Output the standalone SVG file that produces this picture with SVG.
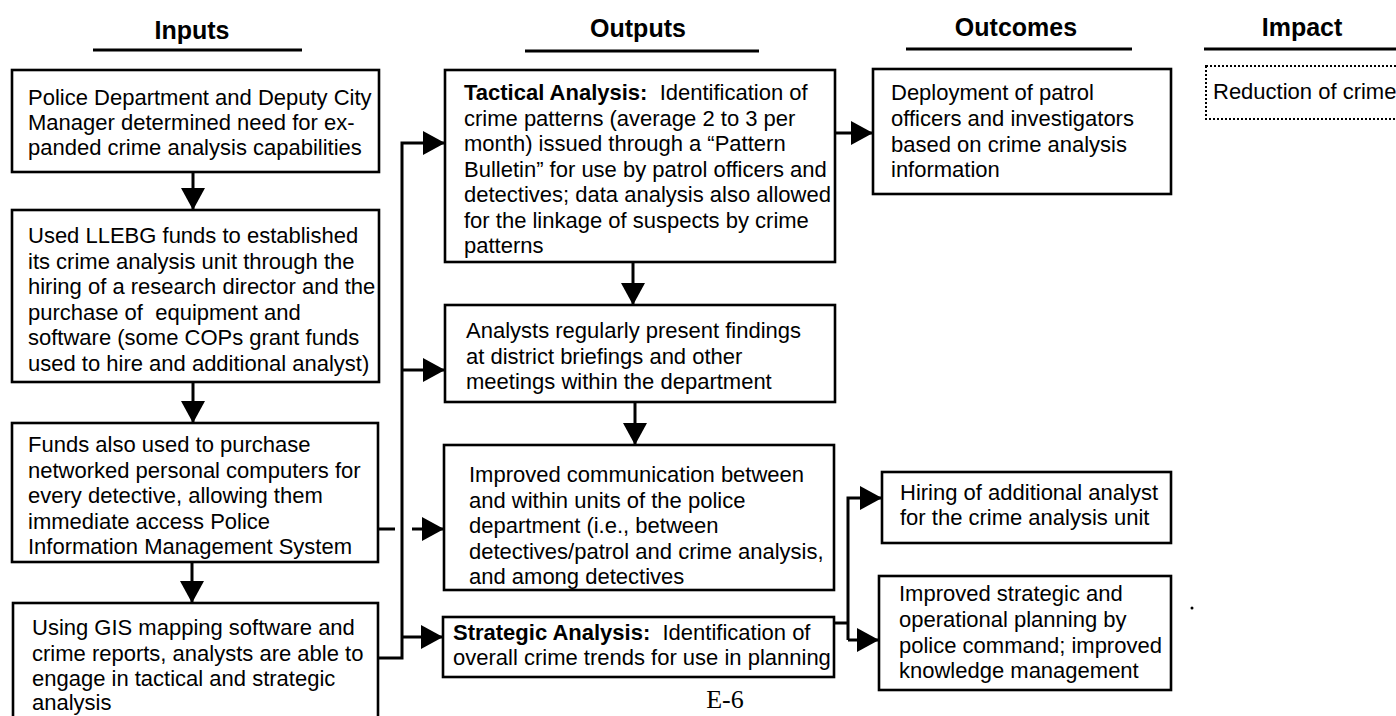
<svg xmlns="http://www.w3.org/2000/svg" width="1396" height="716" viewBox="0 0 1396 716">
<style>
text{font-family:"Liberation Sans",Arial,sans-serif;font-size:22px;fill:#000;white-space:pre}
.h{font-size:25px;font-weight:bold;text-anchor:middle}
.b{font-weight:bold}
.box{fill:#fff;stroke:#000;stroke-width:2.6}
.ul{stroke:#000;stroke-width:3}
.c{fill:none;stroke:#000;stroke-width:3}
</style>
<defs>
<marker id="ah" markerUnits="userSpaceOnUse" markerWidth="22" markerHeight="24" refX="22" refY="12" orient="auto">
<path d="M0,0 L22,12 L0,24 z" fill="#000"/>
</marker>
</defs>
<rect width="1396" height="716" fill="#fff"/>

<g id="headers">
<text class="h" x="192" y="39">Inputs</text>
<line class="ul" x1="93" y1="50" x2="302" y2="50"/>
<text class="h" x="638" y="37">Outputs</text>
<line class="ul" x1="525" y1="51" x2="759" y2="51"/>
<text class="h" x="1016" y="36">Outcomes</text>
<line class="ul" x1="906" y1="49" x2="1132" y2="49"/>
<text class="h" x="1302" y="36">Impact</text>
<line class="ul" x1="1204" y1="49" x2="1396" y2="49"/>
</g>

<g id="connectors">
<line class="c" x1="193" y1="172" x2="193" y2="210" marker-end="url(#ah)"/>
<line class="c" x1="193" y1="382" x2="193" y2="423" marker-end="url(#ah)"/>
<line class="c" x1="192" y1="562" x2="192" y2="603" marker-end="url(#ah)"/>
<path class="c" d="M378,658 H402 V143 H445" marker-end="url(#ah)"/>
<path class="c" d="M402,370 H445" marker-end="url(#ah)"/>
<path class="c" d="M402,637 H443" marker-end="url(#ah)"/>
<path class="c" d="M378,529 H395"/>
<path class="c" d="M412,529 H444" marker-end="url(#ah)"/>
<line class="c" x1="633" y1="262" x2="633" y2="305" marker-end="url(#ah)"/>
<line class="c" x1="635" y1="402" x2="635" y2="445" marker-end="url(#ah)"/>
<path class="c" d="M835,133 H873" marker-end="url(#ah)"/>
<path class="c" d="M834,623 H848"/>
<path class="c" d="M848,640 V498 H882" marker-end="url(#ah)"/>
<path class="c" d="M848,640 H879" marker-end="url(#ah)"/>
</g>

<g id="in1">
<rect class="box" x="12" y="70" width="367" height="102"/>
<text x="28" y="105">Police Department and Deputy City</text>
<text x="28" y="130">Manager determined need for ex-</text>
<text x="28" y="155">panded crime analysis capabilities</text>
</g>

<g id="in2">
<rect class="box" x="12" y="210" width="367" height="172"/>
<text x="28" y="243">Used LLEBG funds to established</text>
<text x="28" y="268.5">its crime analysis unit through the</text>
<text x="28" y="294">hiring of a research director and the</text>
<text x="28" y="319.5" xml:space="preserve">purchase of  equipment and</text>
<text x="28" y="345">software (some COPs grant funds</text>
<text x="28" y="370.5">used to hire and additional analyst)</text>
</g>

<g id="in3">
<rect class="box" x="12" y="423" width="366" height="139"/>
<text x="28" y="452">Funds also used to purchase</text>
<text x="28" y="477.5">networked personal computers for</text>
<text x="28" y="503">every detective, allowing them</text>
<text x="28" y="528.5">immediate access Police</text>
<text x="28" y="554">Information Management System</text>
</g>

<g id="in4">
<rect class="box" x="13" y="603" width="365" height="130"/>
<text x="32" y="635">Using GIS mapping software and</text>
<text x="32" y="660.5">crime reports, analysts are able to</text>
<text x="32" y="686">engage in tactical and strategic</text>
<text x="32" y="710">analysis</text>
</g>

<g id="out1">
<rect class="box" x="445" y="70" width="390" height="192"/>
<text x="464" y="100" xml:space="preserve"><tspan class="b">Tactical Analysis:</tspan>  Identification of</text>
<text x="464" y="125.5">crime patterns (average 2 to 3 per</text>
<text x="464" y="151">month) issued through a “Pattern</text>
<text x="464" y="176.5">Bulletin” for use by patrol officers and</text>
<text x="464" y="202">detectives; data analysis also allowed</text>
<text x="464" y="227.5">for the linkage of suspects by crime</text>
<text x="464" y="253">patterns</text>
</g>

<g id="out2">
<rect class="box" x="445" y="305" width="390" height="97"/>
<text x="466" y="338">Analysts regularly present findings</text>
<text x="466" y="363.5">at district briefings and other</text>
<text x="466" y="389">meetings within the department</text>
</g>

<g id="out3">
<rect class="box" x="444" y="445" width="390" height="145"/>
<text x="469" y="482">Improved communication between</text>
<text x="469" y="507.5">and within units of the police</text>
<text x="469" y="533">department (i.e., between</text>
<text x="469" y="558.5">detectives/patrol and crime analysis,</text>
<text x="469" y="584">and among detectives</text>
</g>

<g id="out4">
<rect class="box" x="443" y="617" width="391" height="60"/>
<text x="453" y="640" xml:space="preserve"><tspan class="b">Strategic Analysis:</tspan>  Identification of</text>
<text x="453" y="665">overall crime trends for use in planning</text>
</g>

<g id="oc1">
<rect class="box" x="873" y="69" width="298" height="125"/>
<text x="891" y="100">Deployment of patrol</text>
<text x="891" y="126">officers and investigators</text>
<text x="891" y="151.5">based on crime analysis</text>
<text x="891" y="177">information</text>
</g>

<g id="oc2">
<rect class="box" x="882" y="472" width="289" height="71"/>
<text x="900" y="500">Hiring of additional analyst</text>
<text x="900" y="525">for the crime analysis unit</text>
</g>

<g id="oc3">
<rect class="box" x="879" y="576" width="292" height="114"/>
<text x="899" y="601">Improved strategic and</text>
<text x="899" y="627">operational planning by</text>
<text x="899" y="653">police command; improved</text>
<text x="899" y="678">knowledge management</text>
</g>

<g id="impact1">
<rect x="1206" y="66" width="210" height="53" fill="#fff" stroke="#000" stroke-width="2" stroke-dasharray="2 2"/>
<text x="1213" y="99">Reduction of crime</text>
</g>

<circle cx="1192" cy="608" r="1.5" fill="#000"/>
<text x="725" y="708" text-anchor="middle" style="font-family:'Liberation Serif','Times New Roman',serif;font-size:26px">E-6</text>
</svg>
